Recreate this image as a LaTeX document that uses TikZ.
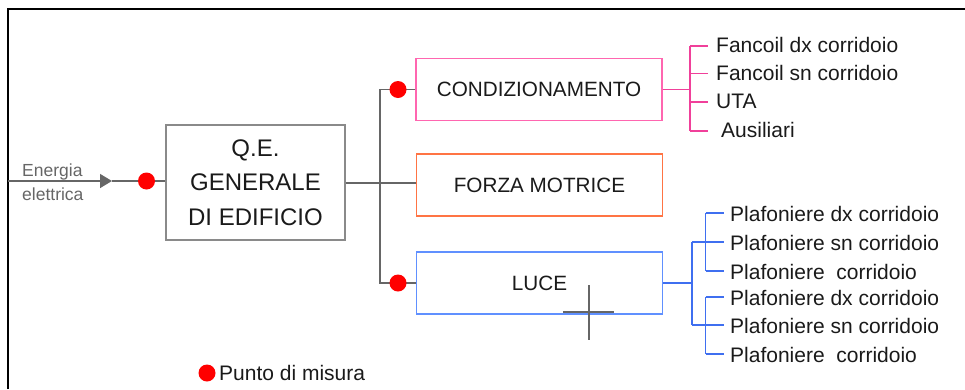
\documentclass[tikz,border=0pt]{standalone}
\usepackage{fontspec}
\setmainfont{Liberation Sans}
\usetikzlibrary{arrows.meta}
\definecolor{txt}{HTML}{1A1A1A}
\definecolor{wiregray}{HTML}{666666}
\definecolor{qegray}{HTML}{8A8A8A}
\definecolor{pinkbox}{HTML}{FF66B0}
\definecolor{pinkwire}{HTML}{F0409A}
\definecolor{orangebox}{HTML}{FF7444}
\definecolor{bluebox}{HTML}{6090FF}
\definecolor{bluewire}{HTML}{3F6FF0}
\definecolor{dotred}{HTML}{FF0000}
\begin{document}
\begin{tikzpicture}[x=1pt,y=-1pt,
  wire/.style={draw=wiregray, line width=1.5pt},
  pwire/.style={draw=pinkwire, line width=1.3pt},
  bwire/.style={draw=bluewire, line width=1.3pt},
  box/.style={draw, line width=1.4pt, inner sep=0pt, text=txt, minimum width=246pt, minimum height=62pt, font=\fontsize{20.7}{24}\selectfont},
  mdot/.style={circle, fill=dotred, inner sep=0pt, minimum size=17pt},
  item/.style={anchor=base west, inner sep=0pt, text=txt, font=\fontsize{21}{24}\selectfont},
  inlabel/.style={anchor=base west, inner sep=0pt, text=wiregray, font=\fontsize{17.5}{20}\selectfont}]
\useasboundingbox (0,0) rectangle (965,389);
% frame
\draw[black, line width=2pt] (8,389) -- (8,9) -- (965,9);

% main boxes
\node[box, draw=qegray, minimum width=179pt, minimum height=115pt, align=center,
      font=\fontsize{24}{34.5}\selectfont] (qe) at (255.5,182.5) {Q.E.\\GENERALE\\DI EDIFICIO};
\node[box, draw=pinkbox] (cond) at (539,89.5) {CONDIZIONAMENTO};
\node[box, draw=orangebox] (fm) at (539.5,185) {FORZA MOTRICE};
\node[box, draw=bluebox] (luce) at (539.5,283) {LUCE};

% input
\node[inlabel] (en) at (22,176) {Energia};
\node[inlabel] (el) at (22,200) {elettrica};
\coordinate (in) at (8,181);
\coordinate (tip) at (112,181);
\draw[wire, -{Triangle[length=12pt,width=14pt]}] (in) -- (tip);
\draw[wire] (tip) -- (qe.west |- tip);

% trunk
\coordinate (j) at (380,183);
\coordinate (jt) at (380,89.5);
\coordinate (jb) at (380,283);
\draw[wire] (qe.east |- j) -- (j);
\draw[wire] (cond.west) -- (jt) -- (jb) -- (luce.west);
\draw[wire] (j) -- (fm.west |- j);

% measurement dots
\node[mdot] (d0) at (146.5,181) {};
\node[mdot] (d1) at (398,89.5) {};
\node[mdot] (d2) at (398,283) {};

% conditioning items
\coordinate (cb) at (690,89.5);
\coordinate (c1) at (690,46);
\coordinate (c4) at (690,131);
\draw[pwire] (cond.east) -- (cb);
\draw[pwire] (c1) -- (c4);
\foreach \y in {46,73.5,102,131} \draw[pwire] (690,\y) -- (708,\y);
\node[item] (f1) at (716,52) {Fancoil dx corridoio};
\node[item] (f2) at (716,80) {Fancoil sn corridoio};
\node[item] (f3) at (716,108) {UTA};
\node[item] (f4) at (721,137) {Ausiliari};

% light items
\coordinate (lb) at (692,283);
\draw[bwire] (luce.east) -- (lb);
\draw[bwire] (692,242) -- (692,325);
\draw[bwire] (705.5,213) -- (705.5,271);
\draw[bwire] (705.5,297) -- (705.5,354);
\foreach \y in {213,271,297,354} \draw[bwire] (705.5,\y) -- (724,\y);
\foreach \y in {242,325} \draw[bwire] (692,\y) -- (724,\y);
\node[item] (p1) at (730,221) {Plafoniere dx corridoio};
\node[item] (p2) at (730,250) {Plafoniere sn corridoio};
\node[item] (p3) at (730,279) {Plafoniere\ \ corridoio};
\node[item] (p4) at (730,305) {Plafoniere dx corridoio};
\node[item] (p5) at (730,333) {Plafoniere sn corridoio};
\node[item] (p6) at (730,362) {Plafoniere\ \ corridoio};

% cursor cross
\draw[wiregray, line width=1.3pt] (563,312) -- (614,312);
\draw[wiregray, line width=1.3pt] (589,285) -- (589,340);

% legend
\node[mdot] (ld) at (207,373) {};
\node[item] (lt) at (219,380) {Punto di misura};
\end{tikzpicture}
\end{document}
